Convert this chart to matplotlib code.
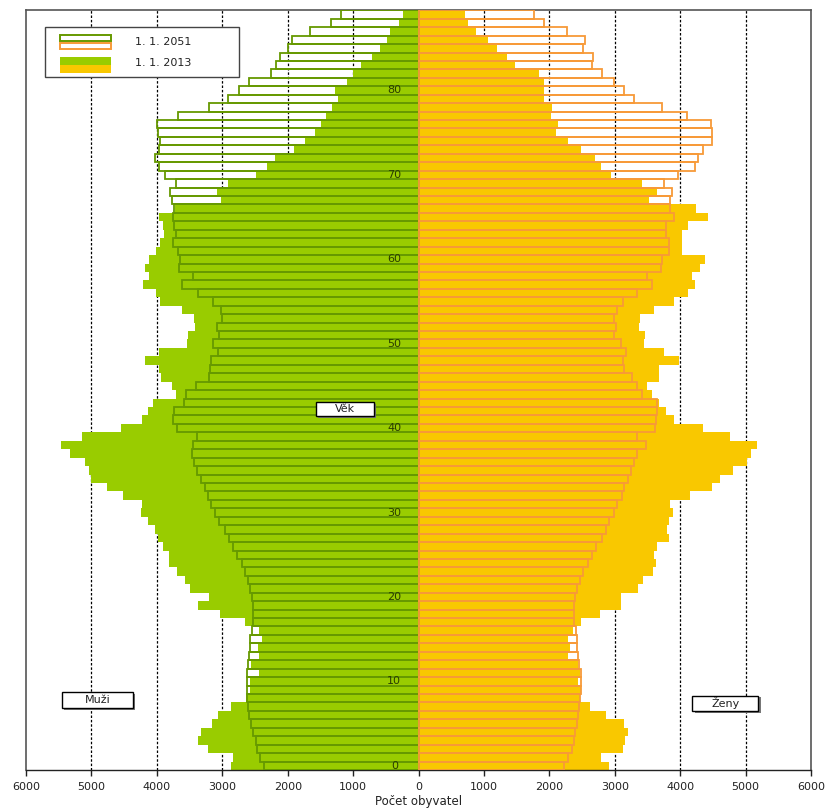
import numpy as np
import matplotlib
matplotlib.use("Agg")
from matplotlib import pyplot as plt
from matplotlib.patches import Rectangle

# age 0..89
ages = np.arange(90)

muzi_2013 = [2860, 2840, 3220, 3370, 3330, 3160, 3070, 2865, 2630, 2575,
             2575, 2440, 2560, 2440, 2460, 2395, 2440, 2645, 3035, 3370,
             3205, 3500, 3575, 3695, 3820, 3820, 3910, 3985, 4025, 4140,
             4245, 4225, 4520, 4765, 5005, 5040, 5100, 5335, 5465, 5140,
             4545, 4225, 4140, 4055, 3715, 3775, 3935, 3970, 4180, 3970,
             3545, 3520, 3415, 3435, 3615, 3945, 4010, 4205, 4115, 4180,
             4115, 4010, 3950, 3885, 3910, 3970, 3720, 3015, 3080, 2910,
             2480, 2315, 2200, 1905, 1740, 1575, 1485, 1420, 1330, 1225,
             1270, 1095, 995, 885, 715, 585, 480, 435, 305, 240]

muzi_2051 = [2365, 2430, 2470, 2490, 2535, 2560, 2585, 2610, 2625, 2625,
             2625, 2625, 2610, 2595, 2575, 2575, 2545, 2525, 2525, 2525,
             2550, 2575, 2610, 2650, 2695, 2770, 2830, 2900, 2965, 3045,
             3105, 3165, 3215, 3265, 3320, 3380, 3430, 3465, 3450, 3380,
             3690, 3760, 3735, 3590, 3550, 3400, 3205, 3185, 3180, 3065,
             3140, 3045, 3080, 3010, 3015, 3145, 3375, 3615, 3440, 3655,
             3640, 3675, 3755, 3705, 3735, 3755, 3745, 3765, 3805, 3705,
             3875, 3960, 4035, 3970, 3955, 3980, 3995, 3675, 3205, 2910,
             2750, 2585, 2255, 2185, 2125, 1995, 1930, 1665, 1345, 1180]

zeny_2013 = [2905, 2795, 3120, 3160, 3200, 3135, 2865, 2625, 2470, 2480,
             2445, 2470, 2440, 2290, 2310, 2290, 2355, 2485, 2780, 3100,
             3100, 3350, 3435, 3590, 3630, 3605, 3645, 3835, 3800, 3835,
             3885, 3840, 4150, 4480, 4615, 4800, 5015, 5085, 5170, 4760,
             4355, 3910, 3790, 3680, 3565, 3500, 3670, 3670, 3975, 3755,
             3440, 3460, 3375, 3390, 3605, 3910, 4120, 4225, 4180, 4305,
             4375, 4035, 4035, 4035, 4115, 4420, 4240, 3525, 3650, 3410,
             2935, 2785, 2695, 2485, 2290, 2100, 2135, 2020, 2035, 1925,
             1925, 1925, 1840, 1480, 1345, 1200, 1055, 885, 750, 710]

zeny_2051 = [2230, 2290, 2340, 2375, 2395, 2420, 2440, 2455, 2470, 2490,
             2490, 2485, 2460, 2440, 2420, 2425, 2405, 2375, 2375, 2375,
             2395, 2430, 2470, 2520, 2585, 2650, 2720, 2805, 2865, 2915,
             2990, 3035, 3105, 3145, 3205, 3250, 3300, 3335, 3485, 3335,
             3615, 3630, 3640, 3640, 3420, 3335, 3265, 3145, 3120, 3170,
             3095, 2990, 3020, 2990, 3035, 3120, 3340, 3570, 3500, 3705,
             3720, 3825, 3825, 3785, 3785, 3910, 3850, 3845, 3870, 3760,
             3970, 4230, 4270, 4355, 4480, 4480, 4470, 4100, 3715, 3300,
             3145, 2990, 2805, 2645, 2670, 2520, 2545, 2265, 1920, 1760]

xticks = [-6000, -5000, -4000, -3000, -2000, -1000, 0, 1000, 2000, 3000, 4000, 5000, 6000]
age_labels = [0, 10, 20, 30, 40, 50, 60, 70, 80]

green = "#99CC00"
green_dark = "#669900"
yellow = "#F9C800"
orange = "#F79A38"

fig = plt.figure(figsize=(8.29, 8.11), dpi=100)
ax = fig.add_axes([0.0314, 0.0506, 0.9469, 0.9367])

# 2013 filled, 2051 outlines on top
ax.barh(ages, -np.array(muzi_2013), height=1.0, color=green, linewidth=0, zorder=2)
ax.barh(ages, zeny_2013, height=1.0, color=yellow, linewidth=0, zorder=2)
ax.barh(ages, -np.array(muzi_2051), height=1.0, fill=False, edgecolor=green_dark, linewidth=1.3, zorder=3)
ax.barh(ages, zeny_2051, height=1.0, fill=False, edgecolor=orange, linewidth=1.3, zorder=3)

ax.set_xlim(-6000, 6000)
ax.set_ylim(-0.5, 89.5)
ax.set_yticks([])
ax.set_xticks(xticks)
ax.set_xticklabels([str(abs(v)) for v in xticks], fontsize=8, color="#222222")
ax.tick_params(axis="x", direction="out", length=4, width=1, color="#222222", pad=5)

for v in xticks[1:-1]:
    if v != 0:
        ax.axvline(v, color="black", linestyle=(0, (2, 1.5)), linewidth=0.9, zorder=1)

for s in ["left", "right", "top"]:
    ax.spines[s].set_color("#555555")
    ax.spines[s].set_linewidth(1.2)
ax.spines["bottom"].set_color("#222222")
ax.spines["bottom"].set_linewidth(1.0)

ax.set_xlabel("Počet obyvatel", fontsize=8.5, color="#222222", labelpad=2)

# age labels inside the pyramid
for a in age_labels:
    ax.text(-370, a, str(a), fontsize=8, color="#2a3d00", ha="center", va="center", zorder=5)


def label_box(xc, yc, w, h, text):
    # small grey shadow like the original
    ax.add_patch(Rectangle((xc - w / 2 + 35, yc - h / 2 - 0.2), w, h, facecolor="#777777",
                           linewidth=0, zorder=6))
    ax.add_patch(Rectangle((xc - w / 2, yc - h / 2), w, h, facecolor="white",
                           edgecolor="black", linewidth=1.0, zorder=6))
    ax.text(xc, yc, text, fontsize=8, color="#222222", ha="center", va="center", zorder=7)


label_box(-1125, 42.25, 890, 1.7, "Věk")
label_box(-4905, 7.8, 1085, 1.9, "Muži")
label_box(4690, 7.4, 1010, 1.8, "Ženy")

# legend drawn by hand
T = ax.transAxes
ax.add_patch(Rectangle((0.0242, 0.9118), 0.2471, 0.0666, transform=T, facecolor="white",
                       edgecolor="#444444", linewidth=1.0, zorder=8))
ax.add_patch(Rectangle((0.0433, 0.9596), 0.065, 0.0079, transform=T, fill=False,
                       edgecolor=green_dark, linewidth=1.4, zorder=9))
ax.add_patch(Rectangle((0.0433, 0.9485), 0.065, 0.0080, transform=T, fill=False,
                       edgecolor=orange, linewidth=1.4, zorder=9))
ax.add_patch(Rectangle((0.0433, 0.9276), 0.065, 0.0105, transform=T, facecolor=green,
                       linewidth=0, zorder=9))
ax.add_patch(Rectangle((0.0433, 0.9179), 0.065, 0.0097, transform=T, facecolor=yellow,
                       linewidth=0, zorder=9))
ax.text(0.1389, 0.9583, "1. 1. 2051", transform=T, fontsize=8, color="#222222", va="center", zorder=10)
ax.text(0.1389, 0.9306, "1. 1. 2013", transform=T, fontsize=8, color="#222222", va="center", zorder=10)

fig.savefig("out.png", dpi=100)
